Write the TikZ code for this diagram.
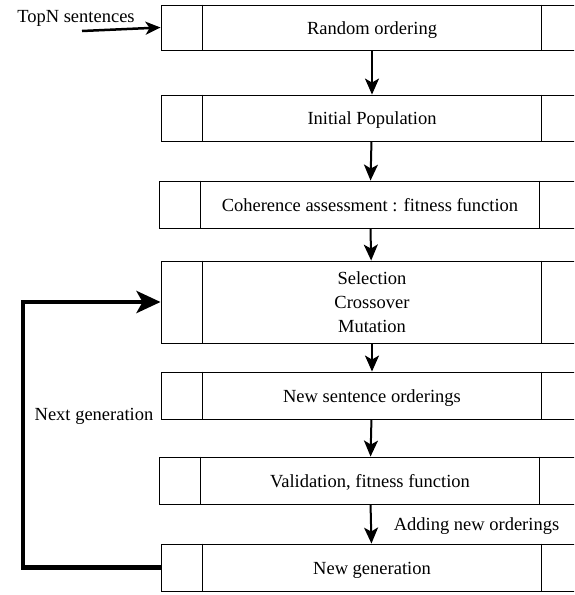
\documentclass[tikz,border=0pt]{standalone}
\usepackage{fontspec}
\setmainfont{Liberation Serif}
\usetikzlibrary{arrows.meta}

\tikzset{
  stage/.style={draw, line width=0.9pt, minimum width=422pt, minimum height=46pt, align=center, inner sep=0pt},
  oneline/.style={stage, text height=17pt, text depth=4pt},
  flow/.style={-{Stealth[length=16pt, width=14pt, inset=4pt]}, line width=2pt},
  loopline/.style={-{Stealth[length=24pt, width=22pt, inset=6pt]}, line width=4.5pt},
}

\begin{document}
\begin{tikzpicture}[x=1pt, y=-1pt, font=\fontsize{18.5}{24}\selectfont]
  \useasboundingbox (0,0) rectangle (574,595);
  \clip (0,0) rectangle (574,595);
  \node[oneline, minimum height=45pt] (ro) at (372,27.5) {Random ordering};
  \node[oneline] (ip) at (372,118) {Initial Population};
  \node[oneline, minimum height=47pt] (ca) at (370,204.5) {Coherence assessment : fitness function};
  \node[stage, minimum height=82pt] (scm) at (372,302) {Selection\\Crossover\\Mutation};
  \node[oneline, minimum height=47pt] (nso) at (372,395.5) {New sentence orderings};
  \node[oneline, minimum height=47pt] (val) at (370,480.5) {Validation, fitness function};
  \node[oneline, minimum height=47pt] (ng) at (372,567.5) {New generation};
  \foreach \n in {ro,ip,ca,scm,nso,val,ng} {
    \draw[line width=0.9pt] ([xshift=42pt]\n.north west) -- ([xshift=42pt]\n.south west);
    \draw[line width=0.9pt] ([xshift=-42pt]\n.north east) -- ([xshift=-42pt]\n.south east);
  }
  % chain of steps
  \draw[flow] (ro) -- (ip);
  \draw[flow] (ip) -- (ca);
  \draw[flow] (ca) -- (scm);
  \draw[flow] (scm) -- (nso);
  \draw[flow] (nso) -- (val);
  \draw[flow] (val) -- (ng);
  % input and feedback
  \coordinate (topn) at (82,31);
  \coordinate (bend) at (23,0);
  \draw[-{Stealth[length=15pt, width=13pt, inset=4pt]}, line width=2.5pt] (topn) -- (ro.west);
  \draw[loopline] (ng.west) -- (ng.west -| bend) |- (scm.west);
  \node[anchor=base] (lbltopn) at (76,22) {TopN sentences};
  \node[anchor=base] (lblnext) at (94,420) {Next generation};
  \node[anchor=base] (lbladd) at (476.5,530) {Adding new orderings};
\end{tikzpicture}
\end{document}
